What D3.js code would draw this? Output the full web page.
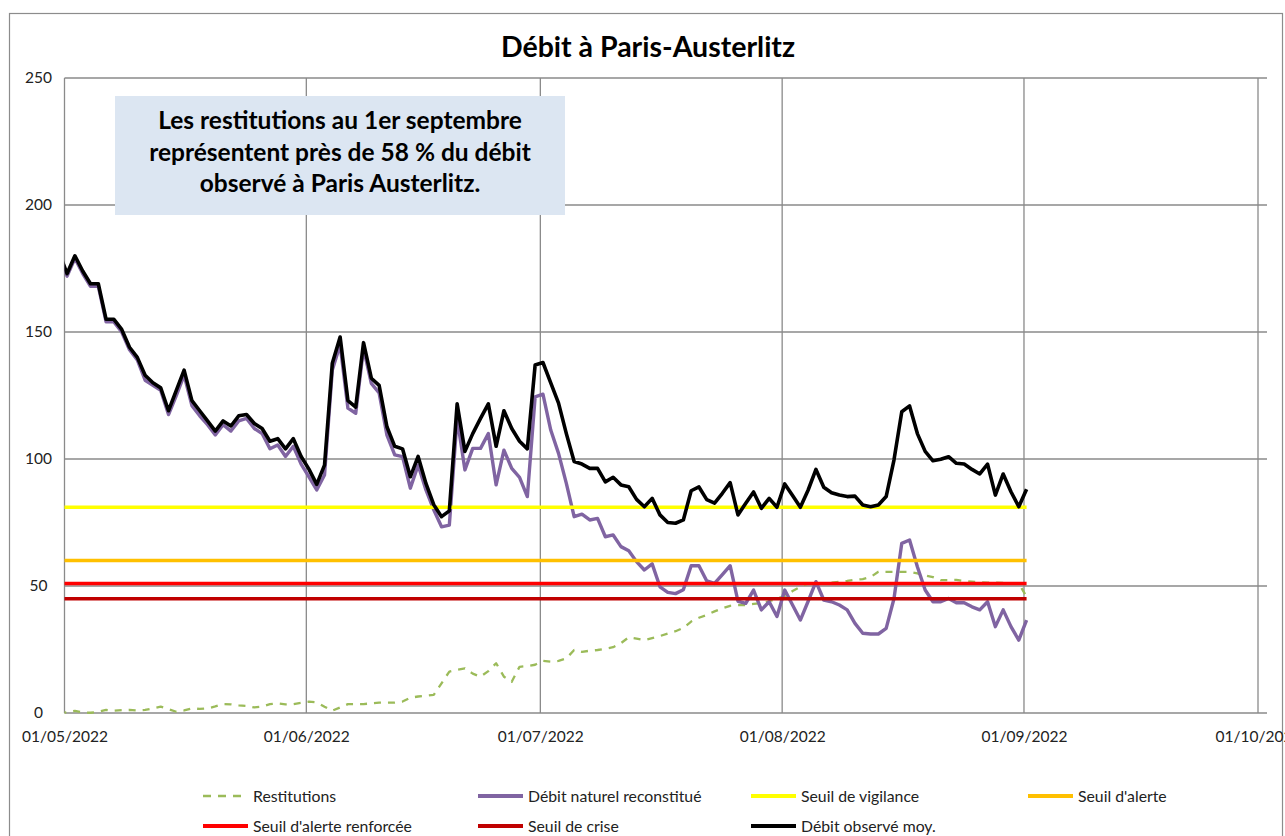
<!DOCTYPE html>
<html><head><meta charset="utf-8">
<script src="https://cdn.jsdelivr.net/npm/d3@7"></script>
<style>
html,body{margin:0;padding:0;background:#fff;}
svg{display:block;font-family:Lato,"Open Sans",sans-serif;}
</style></head>
<body>
<svg id="chart" width="1285" height="836"></svg>
<script>
// ---- data (one value per day, 30/04/2022 to 01/09/2022) ----
const startDate = "2022-04-30";
const endDate = "2022-09-01";
const restitutions = [0,
 0.3,0.8,0.2,0.1,0.5,1.2,0.9,1.1,1.2,1.0,1.2,1.8,2.5,1.5,0.5,1.0,1.8,1.6,1.8,2.6,3.5,3.4,3.0,2.8,2.2,2.5,3.5,3.8,3.4,3.5,4.0,
 4.5,4.2,2.5,0.9,2.2,3.5,3.5,3.5,3.8,4.1,4.1,4.1,4.5,6.0,6.5,6.8,7.1,11.7,16.3,17.0,17.6,15.5,14.3,16.5,19.6,14.3,12.3,18.2,18.5,19.0,
 20.5,20.2,20.5,21.5,24.8,24.1,24.5,24.8,25.3,25.9,27.5,29.8,29.3,28.7,29.5,30.3,31.3,32.2,33.5,36.0,37.5,38.6,40.0,41.2,42.2,42.5,42.5,43.0,43.2,44.0,45.0,
 46.0,48.0,49.7,51.0,51.0,51.0,51.3,51.7,52.0,52.4,52.7,53.5,55.6,55.6,55.6,55.6,55.6,55.0,54.2,53.5,52.3,52.3,52.4,52.0,51.7,51.4,51.3,51.3,51.2,51.1,51.0,45.8];
const debitNaturel = [180,
 172,179,173,168,168,154,154,150,143,139,131,129,127,117.5,125,133,121,117,113.5,109.5,113.5,111,115,116,112,110,104,105.5,101,105,98,
 93,87.8,93.7,135,145,120,118,143.6,129.8,126,109.4,101.6,100.9,88.5,97.6,87.8,80,73.3,74,116,95.7,104.2,104.2,110,89.8,103.5,96.3,92.8,85.2,124.5,
 125.5,111.4,102.2,90.4,77.3,78.3,76,76.6,69.4,70.1,65.5,63.9,59.6,56.3,58.7,49.7,47.5,47,48.5,58,58,52,51,54.5,58,44,43.2,48.4,40.6,43.8,38,
 48.4,42.5,36.6,44,51.7,44.5,43.8,42.5,40.6,35.3,31.4,31.1,31.1,33.3,45,66.8,68.1,57.6,48.4,43.8,43.8,45.1,43.4,43.4,41.8,40.6,43.8,34,40.6,34,28.7,36.6];
const debitObserve = [181,
 173,180,174,169,169,155,155,151,144,140,133,130,128,119,127,135,123,119,115,111,115,113,117,117.5,114,112,107,108,104,108,101,
 96,90,97.6,137.7,148,123,120.4,145.8,131.8,129,112.7,105,104,93,101,90.4,82,77.3,79.6,121.7,103,110,116,121.7,105,119,112,107,104,137,
 138,130,122,110,99,98,96.3,96.3,91,92.8,89.8,89.1,84.1,81.2,84.5,78,75,74.7,76,87.5,89,84,82.6,86.5,90.7,78,82.6,87,80.6,84.5,81,
 90.2,85.6,81,87.8,95.9,88.9,86.7,85.8,85.2,85.4,81.9,81.2,81.9,85.2,99.6,118.6,120.9,110,103,99.3,99.9,100.9,98.3,98,95.9,94.1,98,85.8,94.1,87.1,81.2,88.1];
const seuilVigilance = 81;
const seuilAlerte = 60;
const seuilAlerteRenforcee = 51;
const seuilCrise = 45;
const yTicks = [0,50,100,150,200,250];
const xTickLabels = ["2022-05-01","2022-06-01","2022-07-01","2022-08-01","2022-09-01","2022-10-01"];
const title = "Débit à Paris-Austerlitz";
const noteLines = ["Les restitutions au 1er septembre","représentent près de 58 % du débit","observé à Paris Austerlitz."];

// ---- layout ----
const W = 1285, H = 836;
const plot = {left: 64.5, top: 78, bottom: 713, right: 1267, lastTick: 1258};
const parse = d3.utcParse("%Y-%m-%d");
const dates = d3.utcDay.range(parse(startDate), d3.utcDay.offset(parse(endDate), 1));
const tickDates = xTickLabels.map(parse);

const x = d3.scaleUtc().domain([tickDates[0], tickDates[tickDates.length-1]]).range([plot.left, plot.lastTick]);
const y = d3.scaleLinear().domain([0, 250]).range([plot.bottom, plot.top]);
const xp = d => x(d3.utcHour.offset(d, 8.5)); // point placed within its day

const svg = d3.select("#chart");
const gridColor = "#8a8a8a";

// outer frame
svg.append("rect").attr("x", 9.5).attr("y", 13.5).attr("width", 1273).attr("height", 840)
  .attr("fill", "none").attr("stroke", "#8c8c8c").attr("stroke-width", 1.2);

// title
svg.append("text").attr("x", 648).attr("y", 57).attr("text-anchor", "middle")
  .attr("font-size", 28.5).attr("font-weight", 700).attr("fill", "#000").text(title);

// horizontal gridlines
svg.append("g").selectAll("line").data(yTicks).join("line")
  .attr("x1", plot.left).attr("x2", plot.right)
  .attr("y1", d => y(d)).attr("y2", d => y(d))
  .attr("stroke", gridColor).attr("stroke-width", 1.3);
// vertical gridlines
svg.append("g").selectAll("line").data(tickDates).join("line")
  .attr("x1", d => x(d)).attr("x2", d => x(d))
  .attr("y1", plot.top).attr("y2", plot.bottom)
  .attr("stroke", gridColor).attr("stroke-width", 1.3);

// y axis labels
const yAxis = d3.axisLeft(y).tickValues(yTicks).tickSize(0).tickPadding(0);
const gy = svg.append("g").attr("transform", `translate(38.5,0)`).call(yAxis);
gy.select(".domain").remove();
gy.selectAll("text").attr("text-anchor", "middle").attr("font-size", 15.5)
  .attr("font-family", "Lato, sans-serif").attr("fill", "#222").attr("dy", "0.32em");

// x axis labels
const xAxis = d3.axisBottom(x).tickValues(tickDates).tickSize(0).tickPadding(0)
  .tickFormat(d3.utcFormat("%d/%m/%Y"));
const gx = svg.append("g").attr("transform", `translate(0,${plot.bottom + 29})`).call(xAxis);
gx.select(".domain").remove();
gx.selectAll("text").attr("font-size", 15.5).attr("font-family", "Lato, sans-serif")
  .attr("fill", "#222").attr("dy", 0);

// note box
const boxG = svg.append("g");
boxG.append("rect").attr("x", 115).attr("y", 96).attr("width", 450).attr("height", 119).attr("fill", "#dce6f2");
boxG.selectAll("text").data(noteLines).join("text")
  .attr("x", 340).attr("y", (d, i) => 129 + i * 31.5).attr("text-anchor", "middle")
  .attr("font-size", 24.5).attr("font-weight", 700).attr("fill", "#000").text(d => d);

// series
svg.append("defs").append("clipPath").attr("id", "clip").append("rect")
  .attr("x", plot.left).attr("y", 0).attr("width", plot.right - plot.left).attr("height", H);

const series = [
  {name: "Restitutions", values: restitutions, color: "#9bbb59", width: 2.3, dash: "7,7"},
  {name: "Débit naturel reconstitué", values: debitNaturel, color: "#8064a2", width: 3.4},
  {name: "Seuil de vigilance", values: dates.map(() => seuilVigilance), color: "#ffff00", width: 3.5},
  {name: "Seuil d'alerte", values: dates.map(() => seuilAlerte), color: "#ffc000", width: 3.5},
  {name: "Seuil d'alerte renforcée", values: dates.map(() => seuilAlerteRenforcee), color: "#ff0000", width: 3.5},
  {name: "Seuil de crise", values: dates.map(() => seuilCrise), color: "#c00000", width: 3.5},
  {name: "Débit observé moy.", values: debitObserve, color: "#000000", width: 3.6}
];
const line = d3.line().x((d, i) => xp(dates[i])).y(d => y(d));
const sg = svg.append("g").attr("clip-path", "url(#clip)");
series.forEach(s => {
  sg.append("path").datum(s.values).attr("d", line)
    .attr("fill", "none").attr("stroke", s.color).attr("stroke-width", s.width)
    .attr("stroke-linejoin", "round").attr("stroke-linecap", "butt")
    .attr("stroke-dasharray", s.dash || null);
});

// legend
const legendPos = [[203, 796], [478, 796], [751, 796], [1028, 796], [203, 826], [478, 826], [751, 826]];
const lg = svg.append("g");
series.forEach((s, i) => {
  const [lx, ly] = legendPos[i];
  lg.append("line").attr("x1", lx).attr("x2", lx + 45).attr("y1", ly).attr("y2", ly)
    .attr("stroke", s.color).attr("stroke-width", s.dash ? 2.5 : 4)
    .attr("stroke-dasharray", s.dash ? "8,7" : null);
  lg.append("text").attr("x", lx + 50).attr("y", ly + 5.5).attr("font-size", 15.8)
    .attr("fill", "#222").text(s.name);
});
</script>
</body></html>
